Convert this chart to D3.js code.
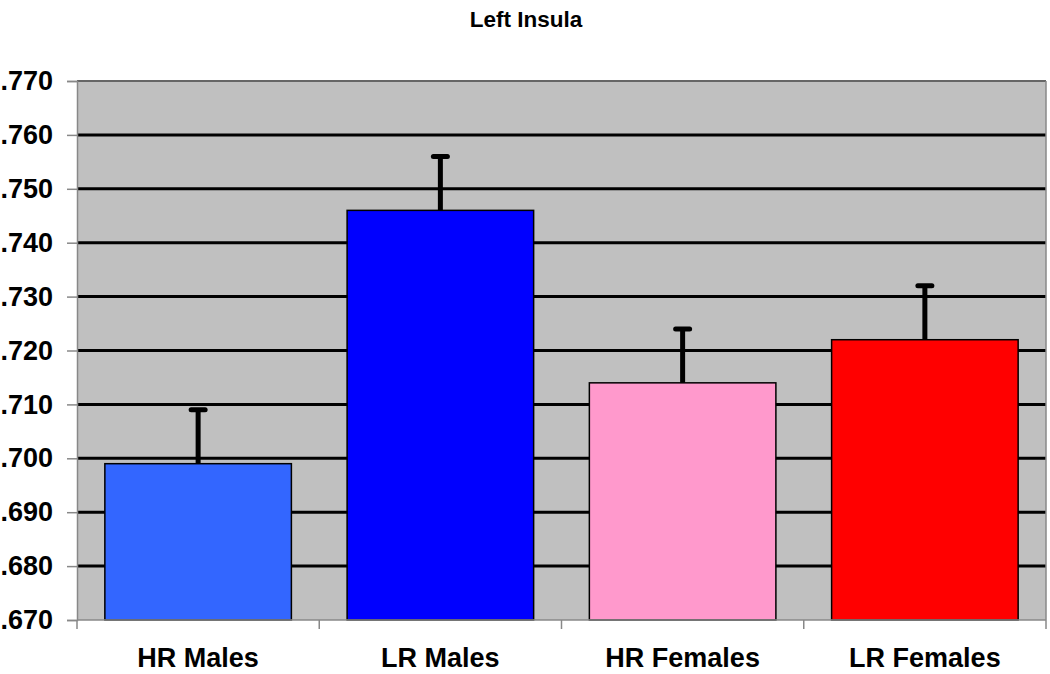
<!DOCTYPE html>
<html><head><meta charset="utf-8">
<script src="https://cdn.jsdelivr.net/npm/d3@7"></script>
<style>body{margin:0;background:#fff}svg{display:block}</style>
</head><body>
<svg id="c" width="1050" height="674"></svg>
<script>
const categories = ["HR Males", "LR Males", "HR Females", "LR Females"];
const values = [0.699, 0.746, 0.714, 0.722];
const errors = [0.010, 0.010, 0.010, 0.010];
const colors = ["#3366FF", "#0000FF", "#FF99CC", "#FF0000"];
const yTicks = [0.670, 0.680, 0.690, 0.700, 0.710, 0.720, 0.730, 0.740, 0.750, 0.760, 0.770];
const title = "Left Insula";

const svg = d3.select("#c");
const L = 77, R = 1046, T = 81, B = 620;
const x = d3.scaleBand().domain(categories).range([L, R]).paddingInner(0.23).paddingOuter(0.115);
const y = d3.scaleLinear().domain([0.670, 0.770]).range([B, T]);

svg.append("rect").attr("x", L).attr("y", T).attr("width", R - L).attr("height", B - T).attr("fill", "#C0C0C0");

// gridlines
svg.append("g").selectAll("line").data(yTicks.slice(1, -1)).join("line")
  .attr("x1", L).attr("x2", R).attr("y1", d => y(d)).attr("y2", d => y(d))
  .attr("stroke", "#000").attr("stroke-width", 3);

// top and right border
svg.append("line").attr("x1", L).attr("x2", R).attr("y1", T).attr("y2", T).attr("stroke", "#666").attr("stroke-width", 2);
svg.append("line").attr("x1", R).attr("x2", R).attr("y1", T).attr("y2", B).attr("stroke", "#888").attr("stroke-width", 1.5);

// y axis
const yAxis = d3.axisLeft(y).tickValues(yTicks).tickSize(10).tickPadding(14)
  .tickFormat(d => d3.format(".3f")(d).replace(/^0/, ""));
const gy = svg.append("g").attr("transform", `translate(${L},0)`).call(yAxis);
gy.select(".domain").attr("stroke", "#888").attr("stroke-width", 1.5);
gy.selectAll(".tick line").attr("stroke", "#888").attr("stroke-width", 1.5);
gy.selectAll("text").attr("font-family", "Liberation Sans, Arial, sans-serif")
  .attr("font-weight", "bold").attr("font-size", 27).attr("fill", "#000");

// bars
svg.append("g").selectAll("rect").data(categories).join("rect")
  .attr("x", d => x(d)).attr("y", (d, i) => y(values[i]))
  .attr("width", x.bandwidth()).attr("height", (d, i) => B - y(values[i]))
  .attr("fill", (d, i) => colors[i]).attr("stroke", "#000").attr("stroke-width", 1.5);

// error bars
const eg = svg.append("g");
categories.forEach((c, i) => {
  const cx = x(c) + x.bandwidth() / 2;
  eg.append("line").attr("x1", cx).attr("x2", cx).attr("y1", y(values[i])).attr("y2", y(values[i] + errors[i]))
    .attr("stroke", "#000").attr("stroke-width", 5);
  eg.append("line").attr("x1", cx - 7).attr("x2", cx + 7).attr("y1", y(values[i] + errors[i])).attr("y2", y(values[i] + errors[i]))
    .attr("stroke", "#000").attr("stroke-width", 5).attr("stroke-linecap", "round");
});

// x axis
svg.append("line").attr("x1", L).attr("x2", R).attr("y1", B).attr("y2", B).attr("stroke", "#888").attr("stroke-width", 1.5);
const bounds = d3.range(categories.length + 1).map(i => L + i * (R - L) / categories.length);
svg.append("g").selectAll("line").data(bounds).join("line")
  .attr("x1", d => d).attr("x2", d => d).attr("y1", B).attr("y2", B + 9)
  .attr("stroke", "#888").attr("stroke-width", 1.5);
svg.append("g").selectAll("text").data(categories).join("text")
  .attr("x", d => x(d) + x.bandwidth() / 2).attr("y", 667)
  .attr("text-anchor", "middle").attr("font-family", "Liberation Sans, Arial, sans-serif")
  .attr("font-weight", "bold").attr("font-size", 27).text(d => d);

svg.append("text").attr("x", 526).attr("y", 27).attr("text-anchor", "middle")
  .attr("font-family", "Liberation Sans, Arial, sans-serif").attr("font-weight", "bold")
  .attr("font-size", 22.5).text(title);
</script>
</body></html>
